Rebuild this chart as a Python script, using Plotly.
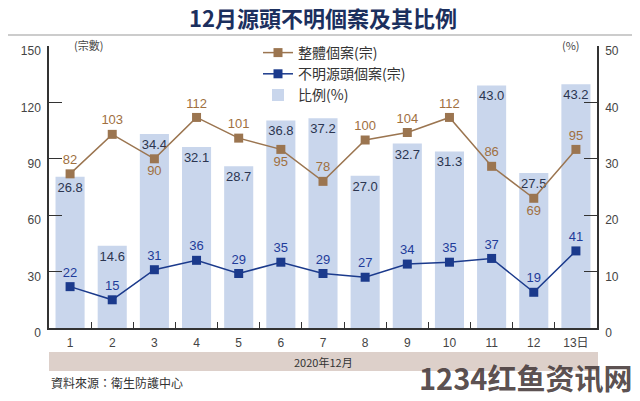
import plotly.graph_objects as go

days = ["1", "2", "3", "4", "5", "6", "7", "8", "9", "10", "11", "12", "13日"]
total_cases = [82, 103, 90, 112, 101, 95, 78, 100, 104, 112, 86, 69, 95]
unknown_cases = [22, 15, 31, 36, 29, 35, 29, 27, 34, 35, 37, 19, 41]
ratio_pct = [26.8, 14.6, 34.4, 32.1, 28.7, 36.8, 37.2, 27.0, 32.7, 31.3, 43.0, 27.5, 43.2]
total_label_pos = ["top center", "top center", "bottom center", "top center", "top center",
                   "bottom center", "top center", "top center", "top center", "top center",
                   "top center", "bottom center", "top center"]
left_ticks = [0, 30, 60, 90, 120, 150]
right_ticks = [0, 10, 20, 30, 40, 50]

FONT = "Liberation Sans, Noto Sans CJK TC, sans-serif"
CJK = "Noto Sans CJK TC, sans-serif"
BROWN = "#9b7550"
NAVY = "#1b3a8c"
BAR = "#c9d6ec"
AXIS = "#333333"

L, R, T, B = 49, 43, 46, 73
W, H = 640, 401
PH = H - T - B
PW = W - L - R


def py(px):
    return (H - B - px) / PH


def px_(x):
    return (x - L) / PW


fig = go.Figure()

fig.add_trace(go.Bar(
    x=days, y=ratio_pct, name="比例(%)", yaxis="y", legendrank=3,
    marker=dict(color=BAR, line=dict(width=0)), width=0.69,
    text=[f"{v:.1f}" for v in ratio_pct], textposition="inside",
    insidetextanchor="end", textangle=0, constraintext="none",
    textfont=dict(color="#2b3550", size=13, family=FONT),
))
fig.add_trace(go.Scatter(
    x=days, y=total_cases, name="整體個案(宗)", yaxis="y2", legendrank=1,
    mode="lines+markers+text", line=dict(color=BROWN, width=1.5),
    marker=dict(symbol="square", size=9, color=BROWN),
    text=[str(v) for v in total_cases], textposition=total_label_pos,
    textfont=dict(color="#a0703f", size=13, family=FONT),
))
fig.add_trace(go.Scatter(
    x=days, y=unknown_cases, name="不明源頭個案(宗)", yaxis="y2", legendrank=2,
    mode="lines+markers+text", line=dict(color=NAVY, width=1.5),
    marker=dict(symbol="square", size=9, color=NAVY),
    text=[str(v) for v in unknown_cases], textposition="top center",
    textfont=dict(color="#1f3c9a", size=13, family=FONT),
))

fig.update_layout(
    width=W, height=H,
    margin=dict(l=L, r=R, t=T, b=B),
    paper_bgcolor="white", plot_bgcolor="white",
    font=dict(family=FONT, color="#444", size=12),
    showlegend=True, bargap=0.31,
    legend=dict(x=px_(258), y=py(37), xanchor="left", yanchor="top",
                bgcolor="rgba(0,0,0,0)", font=dict(family=CJK, size=14, color="#333"),
                traceorder="normal", itemwidth=30),
    xaxis=dict(type="category", categoryorder="array", categoryarray=days,
               range=[-0.5, 12.5], showline=True, linecolor=AXIS, linewidth=1.5,
               ticks="inside", tickson="boundaries", ticklen=6, tickcolor=AXIS,
               ticklabelstandoff=3,
               showgrid=False, zeroline=False, tickfont=dict(size=12, color="#444", family=FONT)),
    yaxis=dict(side="right", range=[0, 50], tickvals=right_ticks, showline=True,
               linecolor=AXIS, linewidth=1.5, ticks="inside", ticklen=13, tickcolor=AXIS,
               showgrid=False, zeroline=False, ticklabelshift=5, ticklabelstandoff=4,
               tickfont=dict(size=12, color="#444")),
    yaxis2=dict(side="left", overlaying="y", range=[0, 150], tickvals=left_ticks,
                showline=True, linecolor=AXIS, linewidth=1.5, ticks="inside", ticklen=13,
                tickcolor=AXIS, showgrid=False, zeroline=False, ticklabelshift=5,
                ticklabelstandoff=4, tickfont=dict(size=12, color="#444")),
    shapes=[
        dict(type="line", xref="paper", yref="paper", x0=px_(8), x1=px_(632),
             y0=py(35), y1=py(35), line=dict(color="#cccccc", width=2)),
        dict(type="rect", xref="paper", yref="paper", x0=0, x1=px_(598),
             y0=py(371), y1=py(352), fillcolor="#ddd0ca", line=dict(width=0), layer="below"),
    ],
    annotations=[
        dict(text="<b>12月源頭不明個案及其比例</b>", xref="paper", yref="paper",
             x=px_(323), y=py(17), showarrow=False, xanchor="center", yanchor="middle",
             font=dict(family=CJK, size=22, color="#1b2f5e")),
        dict(text="(宗數)", xref="paper", yref="paper", x=px_(72), y=py(45),
             showarrow=False, xanchor="left", yanchor="middle",
             font=dict(family=CJK, size=11, color="#444")),
        dict(text="(%)", xref="paper", yref="paper", x=px_(582), y=py(45),
             showarrow=False, xanchor="right", yanchor="middle",
             font=dict(family=CJK, size=11, color="#444")),
        dict(text="2020年12月", xref="paper", yref="paper", x=px_(323), y=py(361.5),
             showarrow=False, xanchor="center", yanchor="middle",
             font=dict(family=CJK, size=11, color="#333")),
        dict(text="資料來源：衛生防護中心", xref="paper", yref="paper", x=0, y=py(382),
             showarrow=False, xanchor="left", yanchor="middle",
             font=dict(family=CJK, size=12, color="#333")),
        dict(text="<b>1234红鱼资讯网</b>", xref="paper", yref="paper", x=px_(634),
             y=py(377), showarrow=False, xanchor="right", yanchor="middle",
             font=dict(family=CJK, size=29, color="rgba(70,58,58,0.9)")),
    ],
)

fig.write_html(
    "out.html",
    config={"displayModeBar": False},
    post_script="document.body.style.margin='0';document.body.style.overflow='hidden';",
)
